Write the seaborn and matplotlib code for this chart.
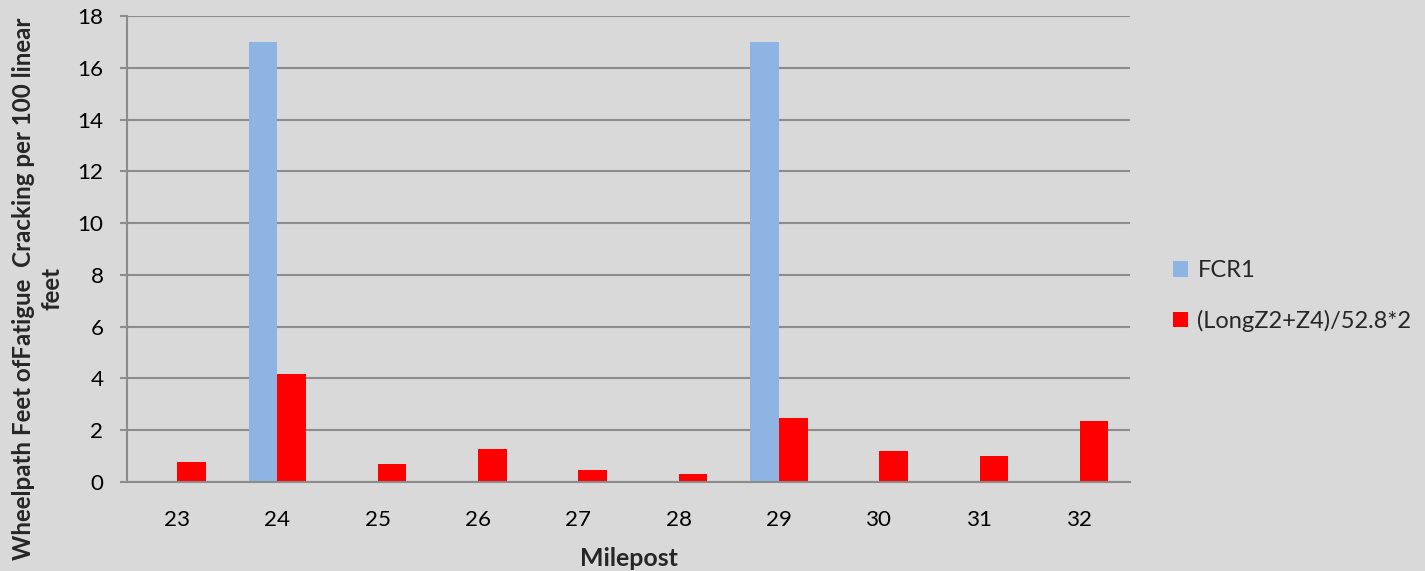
import matplotlib
matplotlib.use("Agg")
import matplotlib.pyplot as plt
import seaborn as sns
import pandas as pd

mileposts = [23, 24, 25, 26, 27, 28, 29, 30, 31, 32]
fcr1 = [0, 17, 0, 0, 0, 0, 17, 0, 0, 0]
long_z2_z4 = [0.77, 4.16, 0.70, 1.26, 0.46, 0.31, 2.46, 1.20, 1.00, 2.36]
series_names = ["FCR1", "(LongZ2+Z4)/52.8*2"]
y_ticks = [0, 2, 4, 6, 8, 10, 12, 14, 16, 18]
y_title = "Wheelpath Feet ofFatigue  Cracking per 100 linear\nfeet"

df = pd.DataFrame({
    "Milepost": [str(m) for m in mileposts] * 2,
    "value": fcr1 + long_z2_z4,
    "series": [series_names[0]] * len(mileposts) + [series_names[1]] * len(mileposts),
})

sns.set_theme(style="white")
plt.rcParams["font.family"] = ["Lato", "DejaVu Sans"]

bg = "#d9d9d9"
grid_c = "#8c8c8c"

fig = plt.figure(figsize=(14.25, 5.71), dpi=100, facecolor=bg)
renderer = fig.canvas.get_renderer()


def size_for_width(text, width_px, weight="normal"):
    """Font size (pt) at which `text` spans about `width_px` pixels."""
    t = fig.text(0, 0, text, fontsize=20, fontweight=weight)
    w = t.get_window_extent(renderer).width
    t.remove()
    return 20 * width_px / w


tick_fs = size_for_width("18", 26)
legend_fs = size_for_width(series_names[1], 214)
xlabel_fs = size_for_width("Milepost", 98, "bold")
ylabel_fs = size_for_width(y_title.split("\n")[0], 545, "bold")

ax = fig.add_axes([127 / 1425, 1 - 482 / 571, (1130 - 127) / 1425, (482 - 16) / 571])
ax.set_facecolor(bg)

sns.barplot(
    data=df, x="Milepost", y="value", hue="series",
    palette={series_names[0]: "#8eb4e3", series_names[1]: "#ff0000"},
    width=0.57, dodge=True, errorbar=None, ax=ax, linewidth=0, saturation=1,
)

ax.set_ylim(0, 18)
ax.set_xlim(-0.5, len(mileposts) - 0.5)
ax.set_yticks(y_ticks)
ax.yaxis.grid(True, color=grid_c, linewidth=1.5)
ax.set_axisbelow(True)

for side in ["top", "right"]:
    ax.spines[side].set_visible(False)
for side in ["left", "bottom"]:
    ax.spines[side].set_color(grid_c)
    ax.spines[side].set_linewidth(1.5)

ax.tick_params(axis="y", left=True, length=5, width=1.5, color=grid_c,
               labelsize=tick_fs, pad=12, labelcolor="black")
ax.tick_params(axis="x", bottom=False, labelsize=tick_fs, pad=14, labelcolor="black")

ax.set_xlabel("Milepost", fontsize=xlabel_fs, fontweight="bold")
ax.xaxis.set_label_coords(0.5, (482 - 547) / 466)
ax.xaxis.label.set_va("top")

ax.set_ylabel(y_title, fontsize=ylabel_fs, fontweight="bold", linespacing=1.25)
ax.yaxis.set_label_coords(-0.089, (482 - 289) / 466)
ax.yaxis.label.set_va("center")

handles, labels = ax.get_legend_handles_labels()
ax.legend(handles, labels, loc="center left", bbox_to_anchor=(1.033, (482 - 296) / 466),
          frameon=False, fontsize=legend_fs, handlelength=0.65, handleheight=0.65,
          handletextpad=0.4, labelspacing=1.2, borderaxespad=0)

fig.savefig("out.png", dpi=100, facecolor=bg)
